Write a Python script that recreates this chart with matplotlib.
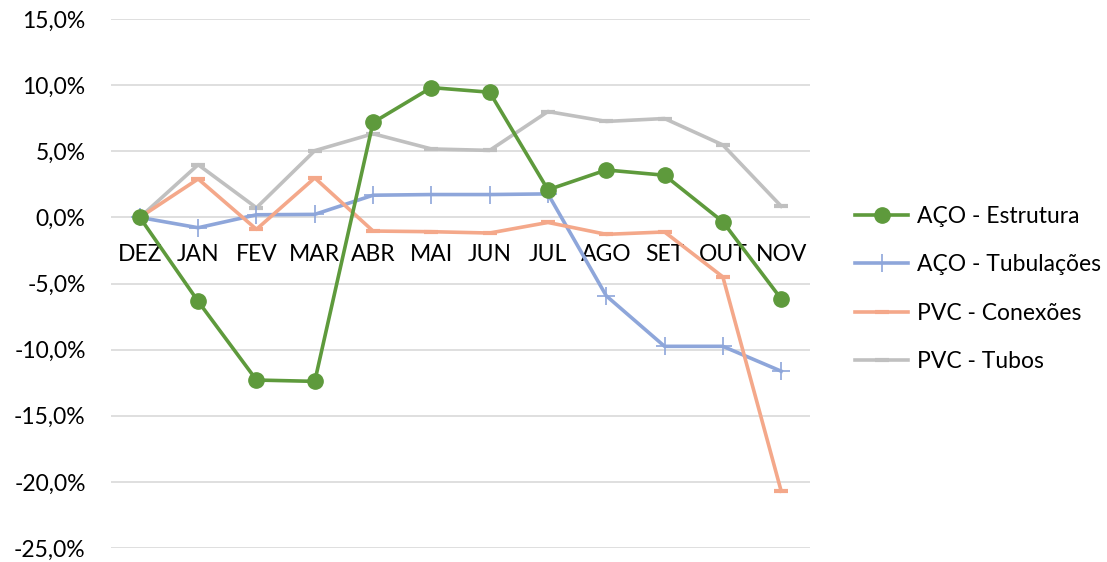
import matplotlib.pyplot as plt
from matplotlib.ticker import FuncFormatter

plt.rcParams['font.family'] = ['Lato', 'DejaVu Sans']

meses = ['DEZ', 'JAN', 'FEV', 'MAR', 'ABR', 'MAI', 'JUN', 'JUL', 'AGO', 'SET', 'OUT', 'NOV']

aco_estrutura = [0.0, -6.35, -12.3, -12.4, 7.18, 9.82, 9.47, 2.09, 3.59, 3.19, -0.33, -6.16]
aco_tubulacoes = [0.0, -0.78, 0.2, 0.23, 1.68, 1.73, 1.73, 1.78, -5.93, -9.75, -9.75, -11.63]
pvc_conexoes = [0.0, 2.91, -0.9, 2.99, -1.03, -1.08, -1.18, -0.38, -1.28, -1.1, -4.5, -20.7]
pvc_tubos = [0.0, 3.99, 0.73, 5.05, 6.33, 5.18, 5.07, 8.01, 7.26, 7.48, 5.48, 0.85]

fig = plt.figure(figsize=(11.07, 5.62), dpi=100)
ax = fig.add_axes([0.1, 0.025, 0.632, 0.941])

x = range(len(meses))
lw = 2.6
ax.plot(x, aco_estrutura, color='#5E9A3C', lw=lw, marker='o', markersize=11,
        label='AÇO - Estrutura', zorder=3)
ax.plot(x, aco_tubulacoes, color='#8EA6DA', lw=lw, marker='+', markersize=13,
        markeredgewidth=1.2, label='AÇO - Tubulações', zorder=2)
ax.plot(x, pvc_conexoes, color='#F4A88A', lw=lw, marker='_', markersize=10,
        markeredgewidth=3, label='PVC - Conexões', zorder=2)
ax.plot(x, pvc_tubos, color='#C0C0C0', lw=lw, marker='_', markersize=10,
        markeredgewidth=3, label='PVC - Tubos', zorder=1)

ax.set_xlim(-0.5, len(meses) - 0.5)
ax.set_ylim(-25, 15)
ax.set_yticks(range(-25, 16, 5))
ax.yaxis.set_major_formatter(FuncFormatter(lambda v, p: f'{v:.1f}%'.replace('.', ',')))
ax.grid(axis='y', color='#D9D9D9', lw=1.2)
ax.set_axisbelow(True)

ax.set_xticks(list(x))
ax.set_xticklabels(meses)
ax.spines['bottom'].set_position(('data', 0))
for s in ax.spines.values():
    s.set_visible(False)
ax.tick_params(axis='both', length=0, labelsize=16.5, colors='#000000')
ax.tick_params(axis='x', pad=19)
ax.tick_params(axis='y', pad=18)

ax.legend(loc='center left', bbox_to_anchor=(1.035, 0.49), frameon=False,
          fontsize=16.5, handlelength=2.3, labelspacing=1.2, handletextpad=0.4)

fig.savefig('out.png')
